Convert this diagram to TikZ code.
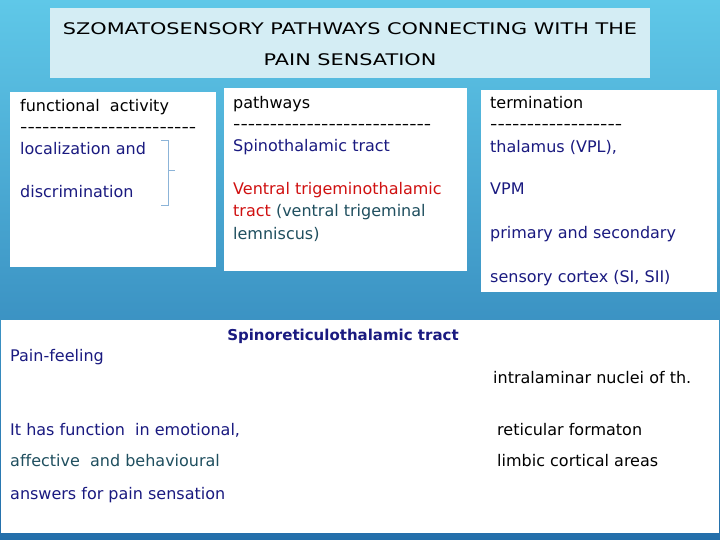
\documentclass[tikz,border=0pt]{standalone}
\usepackage{fontspec}
\setmainfont{DejaVu Sans}[Ligatures=NoCommon]
\newcommand{\hy}[1]{\scalebox{1.27}[1]{\foreach \i in {1,...,#1}{\string-}}}
\begin{document}
\begin{tikzpicture}[x=1pt,y=-1pt,
  t/.style={anchor=base west,inner sep=0pt,font=\fontsize{16}{18}\selectfont},
  box/.style={fill=white,draw=none},
  nv/.style={text=navy}]
\definecolor{navy}{HTML}{1A1A80}
\definecolor{teal2}{HTML}{1F4F5F}
\definecolor{redd}{HTML}{D01010}
\definecolor{titlebg}{HTML}{D4EDF4}
\definecolor{brk}{HTML}{8CB4D8}
\useasboundingbox (0,0) rectangle (720,540);
\shade[top color={rgb,255:red,95;green,200;blue,232}, bottom color={rgb,255:red,35;green,110;blue,170}] (0,0) rectangle (720,540);
\node[box,fill=titlebg,minimum width=600,minimum height=70,anchor=north west] (title) at (50,8) {};
\node[anchor=center,font=\fontsize{16}{18}\selectfont] (t1) at (350,29) {\scalebox{1.3}[1]{SZOMATOSENSORY PATHWAYS CONNECTING WITH THE}};
\node[anchor=center,font=\fontsize{16}{18}\selectfont] (t2) at (350,60) {\scalebox{1.3}[1]{PAIN SENSATION}};
\node[box,minimum width=206,minimum height=175,anchor=north west] (b1) at (10,92) {};
\node[box,minimum width=243,minimum height=183,anchor=north west] (b2) at (224,88) {};
\node[box,minimum width=236,minimum height=202,anchor=north west] (b3) at (481,90) {};
\node[box,minimum width=718,minimum height=213,anchor=north west] (b4) at (1,320) {};
% box1
\node[t] (a1) at (20,112) {functional\ \ activity};
\node[t] (a2) at (20,133) {\hy{24}};
\node[t,nv] (a3) at (20,155) {localization and};
\node[t,nv] (a4) at (20,197) {discrimination};
\draw[brk,thin] (161,140) -- (168,140) -- (168,205) -- (161,205);
\draw[brk,thin] (168,170) -- (175,170);
% box2
\node[t] (p1) at (233,109) {pathways};
\node[t] (p2) at (233,130) {\hy{27}};
\node[t,nv] (p3) at (233,152) {Spinothalamic tract};
\node[t,text=redd] (p4) at (233,195) {Ventral trigeminothalamic};
\node[t] (p5) at (233,217) {\textcolor{redd}{tract} \textcolor{teal2}{(ventral trigeminal}};
\node[t,text=teal2] (p6) at (233,240) {lemniscus)};
% box3
\node[t] (q1) at (490,109) {termination};
\node[t] (q2) at (490,130) {\hy{18}};
\node[t,nv] (q3) at (490,153) {thalamus (VPL),};
\node[t,nv] (q4) at (490,195) {VPM};
\node[t,nv] (q5) at (490,239) {primary and secondary};
\node[t,nv] (q6) at (490,282) {sensory cortex (SI, SII)};
% bottom
\node[anchor=base,inner sep=0pt,font=\fontsize{15}{17}\selectfont\bfseries,text=navy] (s1) at (343,340) {Spinoreticulothalamic tract};
\node[t,nv] (s2) at (10,361) {Pain-feeling};
\node[t] (s3) at (493,383) {intralaminar nuclei of th.};
\node[t,nv] (s4) at (10,435) {It has function\ \ in emotional,};
\node[t,text=teal2] (s5) at (10,466) {affective\ \ and behavioural};
\node[t,nv] (s6) at (10,499) {answers for pain sensation};
\node[t] (s7) at (497,435) {reticular formaton};
\node[t] (s8) at (497,466) {limbic cortical areas};
\end{tikzpicture}
\end{document}
